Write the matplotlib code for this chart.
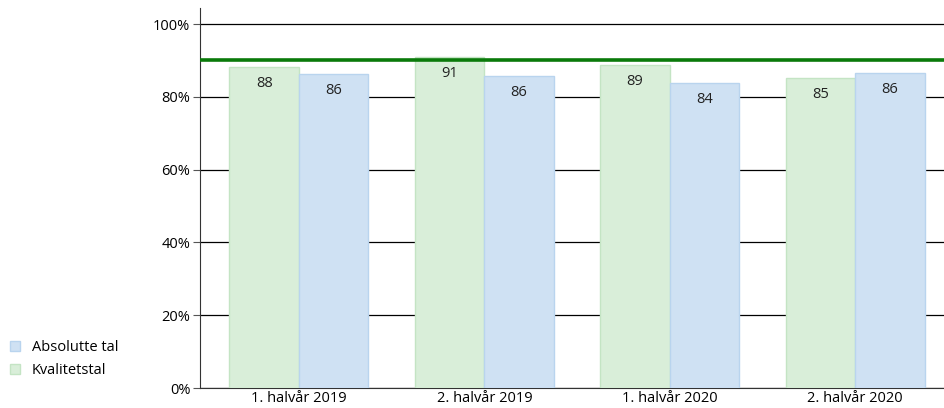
import numpy as np
import matplotlib.pyplot as plt
from matplotlib.patches import Patch

categories = ['1. halvår 2019', '2. halvår 2019', '1. halvår 2020', '2. halvår 2020']
kvalitetstal = [88.1, 90.9, 88.7, 85.1]
absolutte = [86.2, 85.6, 83.7, 86.5]
maal = 90

plt.rcParams['font.family'] = ['Open Sans', 'DejaVu Sans']

green_fill = '#d9eed9'
green_edge = '#c4e4c4'
blue_fill = '#cfe1f3'
blue_edge = '#b9d4ee'

fig = plt.figure(figsize=(9.44, 4.08), dpi=100)
ax = fig.add_axes([200 / 944, 20 / 408, 744 / 944, 380 / 408])

x = np.arange(len(categories))
w = 0.375
b1 = ax.bar(x - w / 2, kvalitetstal, w, color=green_fill, edgecolor=green_edge, linewidth=1, zorder=3)
b2 = ax.bar(x + w / 2, absolutte, w, color=blue_fill, edgecolor=blue_edge, linewidth=1, zorder=3)

for bars, vals in [(b1, kvalitetstal), (b2, absolutte)]:
    for r, v in zip(bars, vals):
        ax.text(r.get_x() + r.get_width() / 2, v - 2.4, '%d' % round(v),
                ha='center', va='top', fontsize=10.5, color='#222222', zorder=4)

ax.axhline(maal, color='#0a7a0a', linewidth=2.6, zorder=4)

ax.set_ylim(0, 104.4)
ax.set_xlim(-0.534, 3.48)
ax.set_yticks([0, 20, 40, 60, 80, 100])
ax.set_yticklabels(['0%', '20%', '40%', '60%', '80%', '100%'], fontsize=10.5)
ax.set_xticks(x)
ax.set_xticklabels(categories, fontsize=10.5)
ax.tick_params(axis='x', length=0, pad=2)
ax.tick_params(axis='y', length=5, width=0.8, color='#555555', pad=2)
ax.grid(axis='y', color='black', linewidth=0.9, zorder=0)
for s in ['top', 'right']:
    ax.spines[s].set_visible(False)
ax.spines['left'].set_color('#333333')
ax.spines['bottom'].set_color('#333333')

handles = [Patch(facecolor=blue_fill, edgecolor=blue_edge, label='Absolutte tal'),
           Patch(facecolor=green_fill, edgecolor=green_edge, label='Kvalitetstal')]
fig.legend(handles=handles, loc='upper left', bbox_to_anchor=(0.0, (408 - 330) / 408),
           frameon=False, fontsize=10.5, handlelength=0.7, handleheight=0.7,
           handletextpad=0.8, labelspacing=0.55, borderaxespad=0.3)

fig.savefig('out.png', dpi=100)
